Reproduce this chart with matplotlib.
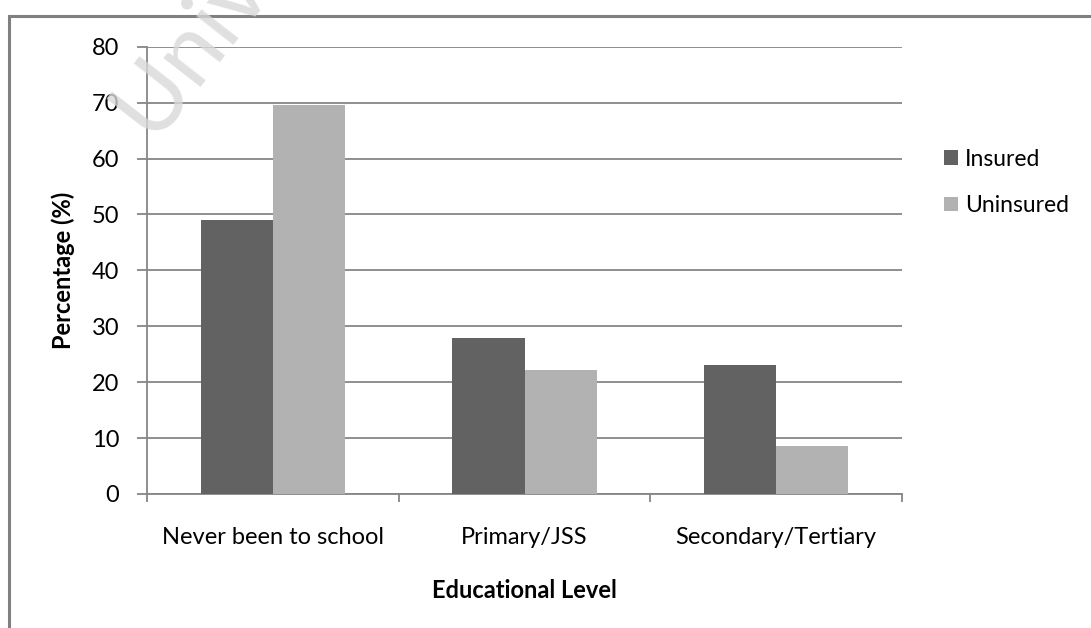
import matplotlib
matplotlib.use("Agg")
import matplotlib.pyplot as plt
import numpy as np
from matplotlib.patches import Rectangle

plt.rcParams['font.family'] = ['Lato', 'DejaVu Sans']

categories = ['Never been to school', 'Primary/JSS', 'Secondary/Tertiary']
insured = [49.0, 27.9, 23.1]
uninsured = [69.6, 22.2, 8.5]
series_names = ['Insured', 'Uninsured']

dark = '#626262'
light = '#b2b2b2'
grid_col = '#868686'
fs = 17

fig = plt.figure(figsize=(10.91, 6.28), dpi=100)
ax = fig.add_axes([147 / 1091, 1 - 494 / 628, (902 - 147) / 1091, (494 - 46.7) / 628])

x = np.arange(len(categories))
w = 0.287
b1 = ax.bar(x - w / 2, insured, w, color=dark, label=series_names[0], zorder=3)
b2 = ax.bar(x + w / 2, uninsured, w, color=light, label=series_names[1], zorder=3)

ax.set_xlim(-0.5, 2.5)
ax.set_ylim(0, 80)
ax.set_yticks(range(0, 81, 10))
ax.yaxis.grid(True, color=grid_col, linewidth=1.3, zorder=0)
ax.set_axisbelow(True)

for s in ['top', 'right']:
    ax.spines[s].set_visible(False)
for s in ['left', 'bottom']:
    ax.spines[s].set_color(grid_col)
    ax.spines[s].set_linewidth(1.3)

ax.set_xticks([-0.5, 0.5, 1.5, 2.5])
ax.set_xticklabels([])
ax.set_xticks(x, minor=True)
ax.set_xticklabels(categories, minor=True)
ax.tick_params(axis='x', which='major', length=6, width=1.3, color=grid_col, direction='out')
ax.tick_params(axis='x', which='minor', length=0, pad=24, labelsize=fs)
ax.tick_params(axis='y', length=7, width=1.3, color=grid_col, pad=13, labelsize=fs)

ax.set_xlabel('Educational Level', fontsize=fs, fontweight='bold', labelpad=22)
ax.set_ylabel('Percentage (%)', fontsize=fs, fontweight='bold', labelpad=12)

fig.legend(handles=[b1, b2], loc='center left', bbox_to_anchor=(923 / 1091, 1 - 182.5 / 628),
           frameon=False, fontsize=16.5, handlelength=0.62, handleheight=0.62,
           handletextpad=0.3, labelspacing=1.1)

# chart frame (only top and left edges visible in the crop)
fig.add_artist(Rectangle((9 / 1091, -0.2), 1.2, (628 - 16) / 628 + 0.2,
                         transform=fig.transFigure, fill=False,
                         edgecolor='#808080', linewidth=2.2))

# watermark
fig.text(152 / 1091, 1 - 140 / 628, 'University', fontsize=68, color='#d8d8d8',
         rotation=52, rotation_mode='anchor', ha='left', va='baseline', zorder=10, alpha=0.8)

fig.savefig('out.png', dpi=100)
